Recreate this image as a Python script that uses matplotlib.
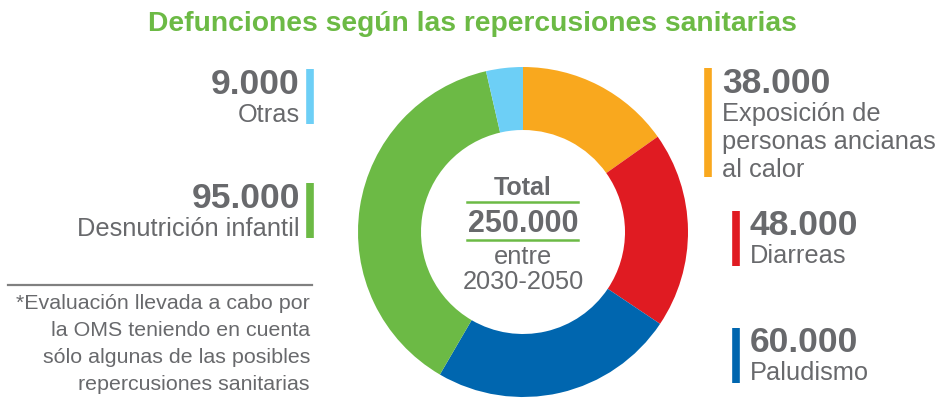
import matplotlib.pyplot as plt

# Defunciones atribuibles al cambio climático, 2030-2050 (OMS)
causes = ['Exposición de\npersonas ancianas\nal calor', 'Diarreas', 'Paludismo',
          'Desnutrición infantil', 'Otras']
deaths = [38000, 48000, 60000, 95000, 9000]
value_labels = ['38.000', '48.000', '60.000', '95.000', '9.000']
colors = ['#F9A81E', '#E01B22', '#0066AF', '#6CBA45', '#6DCFF6']

total_label = '250.000'
period = ['entre', '2030-2050']
title = 'Defunciones según las repercusiones sanitarias'
note = ['*Evaluación llevada a cabo por', 'la OMS teniendo en cuenta',
        'sólo algunas de las posibles', 'repercusiones sanitarias']

GRAY = '#68696C'
GREEN = '#6CBA45'
W, H = 941, 405
plt.rcParams['font.family'] = ['Liberation Sans', 'DejaVu Sans']

fig = plt.figure(figsize=(W / 100, H / 100), dpi=100)
ax = fig.add_axes([0, 0, 1, 1])


def Y(y):
    # pixel row measured from the top -> data y
    return H - y


ax.pie(deaths, colors=colors, startangle=90, counterclock=False,
       center=(523, Y(232)), radius=165,
       wedgeprops=dict(width=63, linewidth=0))
ax.set_xlim(0, W)
ax.set_ylim(0, H)
ax.set_aspect('auto')
ax.axis('off')

ax.text(472, Y(31), title, ha='center', va='baseline', fontsize=20.3,
        fontweight='bold', color=GREEN)

# center of the donut
ax.text(523, Y(195), 'Total', ha='center', va='baseline', fontsize=18,
        fontweight='bold', color=GRAY)
ax.plot([467, 578], [Y(202), Y(202)], color=GREEN, lw=1.8)
ax.text(523, Y(232), total_label, ha='center', va='baseline', fontsize=22,
        fontweight='bold', color=GRAY)
ax.plot([467, 578], [Y(240), Y(240)], color=GREEN, lw=1.8)
for i, line in enumerate(period):
    ax.text(523, Y(264 + 25 * i), line, ha='center', va='baseline',
            fontsize=18.3, color=GRAY)

# (x of bar, bar top, bar bottom, baseline of number, side)
blocks = [
    (708, 68, 177, 93, 'right'),
    (736, 211, 266, 235, 'right'),
    (736, 328, 383, 352, 'right'),
    (310, 183, 238, 208, 'left'),
    (310, 69, 124, 94, 'left'),
]
for (bx, top, bot, base, side), lab, val, c in zip(blocks, causes, value_labels, colors):
    ax.plot([bx, bx], [Y(top), Y(bot)], color=c, lw=5.5, solid_capstyle='butt')
    if side == 'right':
        tx, ha = bx + 14, 'left'
    else:
        tx, ha = bx - 10, 'right'
    ax.text(tx, Y(base), val, ha=ha, va='baseline', fontsize=25.5,
            fontweight='bold', color=GRAY)
    for i, line in enumerate(lab.split('\n')):
        ax.text(tx, Y(base + 28 + 28 * i), line, ha=ha, va='baseline',
                fontsize=18.3, color=GRAY)

# footnote
ax.plot([8, 312], [Y(285), Y(285)], color='#808080', lw=1.6)
for i, line in enumerate(note):
    ax.text(310, Y(309 + 27 * i), line, ha='right', va='baseline',
            fontsize=15.4, color=GRAY)

fig.savefig('out.png', dpi=100)
